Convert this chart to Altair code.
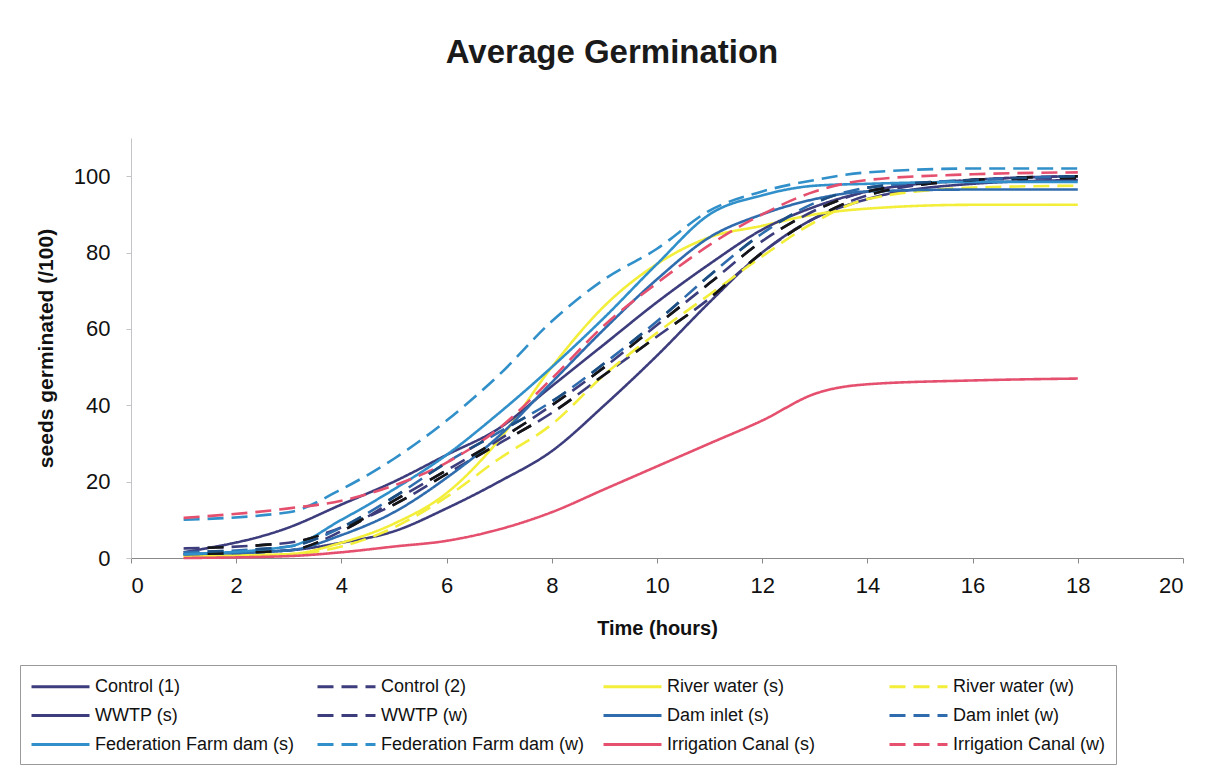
import altair as alt
import pandas as pd

hours = [1, 3, 4, 5, 6, 7, 8, 9, 10, 11, 12, 13, 14, 16, 18]

series_names = [
    "Control (1)", "Control (2)", "River water (s)", "River water (w)",
    "WWTP (s)", "WWTP (w)", "Dam inlet (s)", "Dam inlet (w)",
    "Federation Farm dam (s)", "Federation Farm dam (w)",
    "Irrigation Canal (s)", "Irrigation Canal (w)",
]

control_1 = [1, 2, 4, 7, 13, 20, 28, 40, 53, 67, 80, 89, 94, 98, 99]
control_2 = [2.5, 4, 8, 14, 22, 30, 38, 48, 58, 68, 80, 89, 95, 99, 100]
river_s = [0.5, 1, 4, 9, 17, 31, 50, 66, 77, 84, 87, 90, 91.5, 92.5, 92.5]
river_w = [0.5, 1, 3, 8, 16, 26, 35, 48, 59, 69, 79, 88, 94, 97, 97.5]
wwtp_s = [1.5, 8, 14, 20, 27, 34, 45, 56, 67, 77, 86, 92, 96, 99, 100]
wwtp_w = [1, 2, 7, 15, 23, 31, 40, 50, 61, 72, 83, 91, 96, 99, 99.5]
dam_s = [1, 2, 6, 12, 21, 32, 46, 60, 73, 84, 90, 94, 96, 96.5, 96.5]
dam_w = [1.5, 3, 8, 16, 25, 33, 41, 51, 62, 74, 85, 93, 97, 99, 100]
fed_s = [1, 3, 10, 18, 27, 38, 50, 63, 77, 90, 95, 97.5, 98, 98.5, 98.5]
fed_w = [10, 12, 18, 26, 36, 48, 62, 73, 81, 91, 96, 99, 101, 102, 102]
irr_s = [0, 0.5, 1.5, 3, 4.5, 7.5, 12, 18, 24, 30, 36, 43, 45.5, 46.5, 47]
irr_w = [10.5, 13, 15, 19, 25, 34, 47, 61, 72, 82, 90, 96, 99, 100.5, 101]

values = [control_1, control_2, river_s, river_w, wwtp_s, wwtp_w,
          dam_s, dam_w, fed_s, fed_w, irr_s, irr_w]

colors = ["#3d3d7e", "#3d3d7e", "#f2ee3a", "#f2ee3a",
          "#3d3d7e", "#3d3d7e", "#2f6cad", "#2f6cad",
          "#3190c9", "#3190c9", "#e5506f", "#e5506f"]
solid = [1, 0]
dash = [16, 8]
dashes = [solid, dash, solid, dash, solid, dash, solid, dash, solid, dash, solid, dash]

rows = []
for name, vals in zip(series_names, values):
    for h, v in zip(hours, vals):
        rows.append({"series": name, "hours": h, "seeds": v})
df = pd.DataFrame(rows)

FONT = "Liberation Sans"

x_enc = alt.X("hours:Q", scale=alt.Scale(domain=[0, 20], nice=False),
              axis=alt.Axis(values=list(range(0, 21, 2)), title="Time (hours)",
                            labelPadding=12, titlePadding=22, titleFontSize=20))
y_enc = alt.Y("seeds:Q", scale=alt.Scale(domain=[0, 110], nice=False),
              axis=alt.Axis(values=[0, 20, 40, 60, 80, 100],
                            title="seeds germinated (/100)",
                            labelPadding=16, titlePadding=17, titleFontSize=21,
                            domainColor="#c4c4c8", tickColor="#c4c4c8"))

base = alt.Chart(df)

lines = base.mark_line(interpolate="monotone", strokeWidth=2.6).encode(
    x=x_enc,
    y=y_enc,
    color=alt.Color("series:N", sort=series_names,
                    scale=alt.Scale(domain=series_names, range=colors),
                    legend=alt.Legend(title=None)),
    strokeDash=alt.StrokeDash("series:N", sort=series_names,
                              scale=alt.Scale(domain=series_names, range=dashes),
                              legend=alt.Legend(title=None)),
    order=alt.Order("hours:Q"),
)

overlay_black = base.transform_filter(
    alt.FieldOneOfPredicate(field="series", oneOf=["Control (2)", "WWTP (w)"])
).mark_line(interpolate="monotone", strokeWidth=2.6, strokeDash=[16, 32],
            strokeDashOffset=24).encode(
    x=alt.X("hours:Q"), y=alt.Y("seeds:Q"), detail="series:N",
    color=alt.value("#151515"), order=alt.Order("hours:Q"),
)

overlay_blue = base.transform_filter(
    alt.FieldEqualPredicate(field="series", equal="Dam inlet (w)")
).mark_line(interpolate="monotone", strokeWidth=2.6, strokeDash=[16, 32],
            strokeDashOffset=24).encode(
    x=alt.X("hours:Q"), y=alt.Y("seeds:Q"), detail="series:N",
    color=alt.value("#1d4f82"), order=alt.Order("hours:Q"),
)

chart = alt.layer(lines, overlay_black, overlay_blue).properties(
    width=1052, height=420,
    autosize=alt.AutoSizeParams(type="none"),
    padding={"left": 131, "top": 138, "right": 30, "bottom": 214},
    title=alt.Title("Average Germination", fontSize=33, font=FONT,
                    fontWeight="bold", color="#1a1a1a", offset=68, dx=-45,
                    anchor="middle"),
    background="white",
).configure_view(stroke=None).configure_axis(
    grid=False, labelFont=FONT, labelFontSize=22, labelColor="#111",
    titleFont=FONT, titleFontWeight="bold", titleColor="#111",
    domainColor="#8a8a8a", tickColor="#8a8a8a", tickSize=5,
).configure_legend(
    orient="none", legendX=-111, legendY=527, columns=4, direction="horizontal",
    gridAlign="all", columnPadding=12, rowPadding=8,
    symbolType="M-1,0H4.8", symbolSize=400, symbolStrokeWidth=3,
    symbolFillColor="transparent", labelOffset=42,
    labelFont=FONT, labelFontSize=18, labelColor="#111", labelLimit=400,
    strokeColor="#9a9a9a", padding=10,
)

chart.save("out.html", embed_options={"renderer": "svg", "actions": False})
